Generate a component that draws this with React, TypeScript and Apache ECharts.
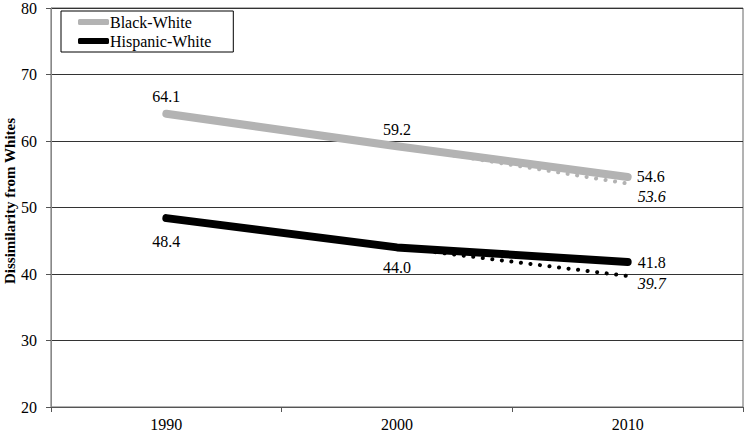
import React, { useEffect, useRef } from "react";
import * as echarts from "echarts";

const years = ["1990", "2000", "2010"];
const blackWhite = [64.1, 59.2, 54.6];
const hispanicWhite = [48.4, 44.0, 41.8];
const blackWhiteProj = [null, 59.2, 53.6];
const hispanicWhiteProj = [null, 44.0, 39.7];
const yTitle = "Dissimilarity from Whites";

const GRAY = "#b3b3b3";
const FONT = "'Liberation Serif', 'Times New Roman', serif";

export default function App() {
  const ref = useRef<HTMLDivElement>(null);
  useEffect(() => {
    const chart = echarts.init(ref.current!, null, { renderer: "svg" });
    const lbl = { fontFamily: FONT, fontSize: 16, color: "#000" };
    chart.setOption({
      animation: false,
      grid: {
        left: 51, right: 7, top: 8, bottom: 28,
        show: true, borderColor: "#666", borderWidth: 1,
        containLabel: false, outerBoundsMode: "none",
      },
      graphic: [
        {
          type: "text",
          x: 10,
          y: 201,
          rotation: Math.PI / 2,
          style: {
            text: yTitle,
            fontFamily: FONT,
            fontSize: 15,
            fontWeight: "bold",
            fill: "#000",
            align: "center",
            verticalAlign: "middle",
          },
        },
      ],
      legend: {
        left: 61,
        top: 11,
        orient: "vertical",
        data: [
          { name: "Black-White", icon: "roundRect", itemStyle: { color: GRAY } },
          { name: "Hispanic-White", icon: "roundRect", itemStyle: { color: "#000" } },
        ],
        borderColor: "#000",
        borderWidth: 1,
        padding: [3, 22, 3, 17],
        itemGap: 3,
        itemWidth: 31,
        itemHeight: 6,
        textStyle: { ...lbl, padding: [0, 0, 0, -4] },
      },
      xAxis: {
        type: "category",
        data: years,
        boundaryGap: true,
        axisLine: { lineStyle: { color: "#555" } },
        axisTick: { show: true, length: 5, inside: false, lineStyle: { color: "#555" } },
        axisLabel: { ...lbl, margin: 9 },
      },
      yAxis: {
        type: "value",
        min: 20,
        max: 80,
        interval: 10,
        axisLine: { show: true, lineStyle: { color: "#888" } },
        axisTick: { show: true, length: 5, lineStyle: { color: "#555" } },
        axisLabel: { ...lbl, margin: 14 },
        splitLine: { show: true, lineStyle: { color: "#333", width: 1 } },
      },
      series: [
        {
          name: "bwProj",
          type: "line",
          data: blackWhiteProj,
          symbol: "none",
          lineStyle: { color: GRAY, width: 4, type: [0.1, 9.5], cap: "round" },
          z: 2,
          endLabel: {
            show: true,
            formatter: (p: any) => p.value[1] ?? p.value,
            ...lbl,
            fontStyle: "italic",
            distance: 10,
            offset: [0, 13],
          },
        },
        {
          name: "hwProj",
          type: "line",
          data: hispanicWhiteProj,
          symbol: "none",
          lineStyle: { color: "#000", width: 4, type: [0.1, 9.5], cap: "round" },
          z: 2,
          endLabel: {
            show: true,
            formatter: (p: any) => p.value[1] ?? p.value,
            ...lbl,
            fontStyle: "italic",
            distance: 10,
            offset: [0, 8],
          },
        },
        {
          name: "Black-White",
          type: "line",
          data: blackWhite.map((v, i) => ({
            value: v,
            label: {
              show: true,
              position: i === 2 ? "right" : "top",
              distance: 9,
              formatter: v.toFixed(1),
              ...lbl,
            },
          })),
          symbol: "circle",
          symbolSize: 0.1,
          itemStyle: { color: GRAY },
          lineStyle: { color: GRAY, width: 8, cap: "round", join: "round" },
          z: 3,
        },
        {
          name: "Hispanic-White",
          type: "line",
          data: hispanicWhite.map((v, i) => ({
            value: v,
            label: {
              show: true,
              position: i === 2 ? "right" : "bottom",
              distance: i === 0 ? 15 : i === 1 ? 12 : 10,
              formatter: v.toFixed(1),
              ...lbl,
            },
          })),
          symbol: "circle",
          symbolSize: 0.1,
          itemStyle: { color: "#000" },
          lineStyle: { color: "#000", width: 8, cap: "round", join: "round" },
          z: 3,
        },
      ],
    });
    return () => chart.dispose();
  }, []);
  return <div ref={ref} style={{ width: 750, height: 435, position: "absolute", left: 0, top: 0 }} />;
}
